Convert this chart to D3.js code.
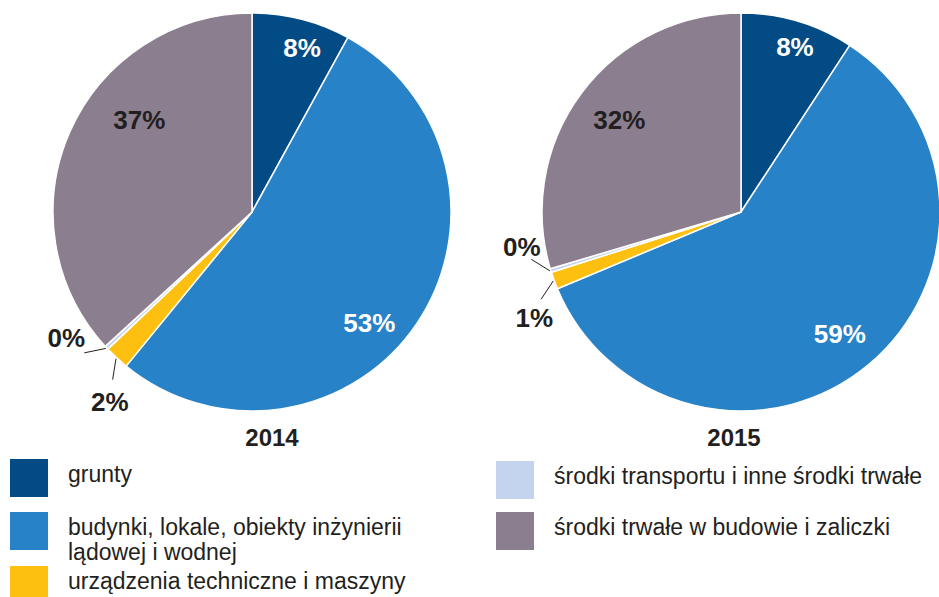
<html>
<head>
  <meta charset="utf-8">
  <title>Struktura nakładów</title>
  <script src="https://d3js.org/d3.v7.min.js"></script>
  <style>
    body { margin: 0; background: #fff; }
    text { font-family: "Liberation Sans", Arial, sans-serif; }
  </style>
</head>
<body>
  <div id="chart"></div>
  <script>
    // categories and values
    var categories = ["grunty", "budynki, lokale, obiekty inżynierii lądowej i wodnej",
      "urządzenia techniczne i maszyny", "środki transportu i inne środki trwałe",
      "środki trwałe w budowie i zaliczki"]
    var values2014 = [8.0, 52.9, 2.0, 0.3, 36.8]
    var values2015 = [9.2, 59.5, 1.4, 0.3, 29.6]
    var labels2014 = ["8%", "53%", "2%", "0%", "37%"]
    var labels2015 = ["8%", "59%", "1%", "0%", "32%"]
    var years = ["2014", "2015"]

    var colors = ["#034b85", "#2882c8", "#fdc010", "#c5d4ee", "#8b7e8f"]
    var textColors = ["#fff", "#fff", "#231f20", "#231f20", "#231f20"]

    var W = 939, H = 597, R = 199

    // label placement: angle offset from slice middle (deg), distance from centre
    var labelLayout = [
      [[2.5, 172], [9.2, 161], [-6, 237], [9, 224], [15.7, 146]],
      [[1.5, 174], [0.8, 157], [-6.8, 232], [8, 222], [0.6, 153]]
    ]
    // leader lines for outside labels: [slice index, angle offset, end radius]
    var leaders = [
      [[2, -3.1, 218], [3, 3, 219]],
      [[2, -3.4, 218], [3, 4.4, 215]]
    ]
    var centers = [[252, 212], [741, 212]]
    var titleX = [272, 734]

    var svg = d3.select("#chart").append("svg")
      .attr("width", W).attr("height", H)

    var pie = d3.pie().sort(null).value(function(d) { return d })
    var arc = d3.arc().innerRadius(0).outerRadius(R)
    var rad = Math.PI / 180

    function polar(angle, r) {
      return [r * Math.sin(angle), -r * Math.cos(angle)]
    }

    [values2014, values2015].forEach(function(vals, k) {
      var labels = k === 0 ? labels2014 : labels2015
      var g = svg.append("g")
        .attr("transform", "translate(" + centers[k][0] + "," + centers[k][1] + ")")
      var arcs = pie(vals)

      g.selectAll("path").data(arcs).enter().append("path")
        .attr("d", arc)
        .attr("fill", function(d, i) { return colors[i] })
        .attr("stroke", "#fff")
        .attr("stroke-width", 1.5)
        .attr("stroke-linejoin", "round")

      leaders[k].forEach(function(l) {
        var a = arcs[l[0]]
        var mid = (a.startAngle + a.endAngle) / 2
        var p0 = polar(mid, R + 1), p1 = polar(mid + l[1] * rad, l[2])
        g.append("line")
          .attr("x1", p0[0]).attr("y1", p0[1])
          .attr("x2", p1[0]).attr("y2", p1[1])
          .attr("stroke", "#231f20").attr("stroke-width", 1)
      })

      g.selectAll("text.lbl").data(arcs).enter().append("text")
        .attr("class", "lbl")
        .attr("transform", function(d, i) {
          var mid = (d.startAngle + d.endAngle) / 2
          var p = polar(mid + labelLayout[k][i][0] * rad, labelLayout[k][i][1])
          return "translate(" + p + ")"
        })
        .attr("text-anchor", "middle")
        .attr("dy", "0.36em")
        .style("font-size", "26px")
        .style("font-weight", "bold")
        .attr("fill", function(d, i) { return textColors[i] })
        .text(function(d, i) { return labels[i] })

      svg.append("text")
        .attr("x", titleX[k]).attr("y", 446)
        .attr("text-anchor", "middle")
        .style("font-size", "24px")
        .style("font-weight", "bold")
        .attr("fill", "#231f20")
        .text(years[k])
    })

    // legend
    var legendItems = [
      { i: 0, x: 10, y: 459, lines: ["grunty"] },
      { i: 1, x: 10, y: 512, lines: ["budynki, lokale, obiekty inżynierii", "lądowej i wodnej"] },
      { i: 2, x: 10, y: 566, lines: ["urządzenia techniczne i maszyny"] },
      { i: 3, x: 496, y: 461, lines: ["środki transportu i inne środki trwałe"] },
      { i: 4, x: 496, y: 512, lines: ["środki trwałe w budowie i zaliczki"] }
    ]
    var leg = svg.append("g")
    legendItems.forEach(function(d) {
      leg.append("rect")
        .attr("x", d.x).attr("y", d.y)
        .attr("width", 38).attr("height", 38)
        .attr("fill", colors[d.i])
      var t = leg.append("text")
        .attr("x", d.x + 58).attr("y", d.y + 23)
        .style("font-size", "23px")
        .attr("fill", "#231f20")
      d.lines.forEach(function(s, j) {
        t.append("tspan").attr("x", d.x + 58).attr("dy", j === 0 ? 0 : 25).text(s)
      })
    })
  </script>
</body>
</html>
